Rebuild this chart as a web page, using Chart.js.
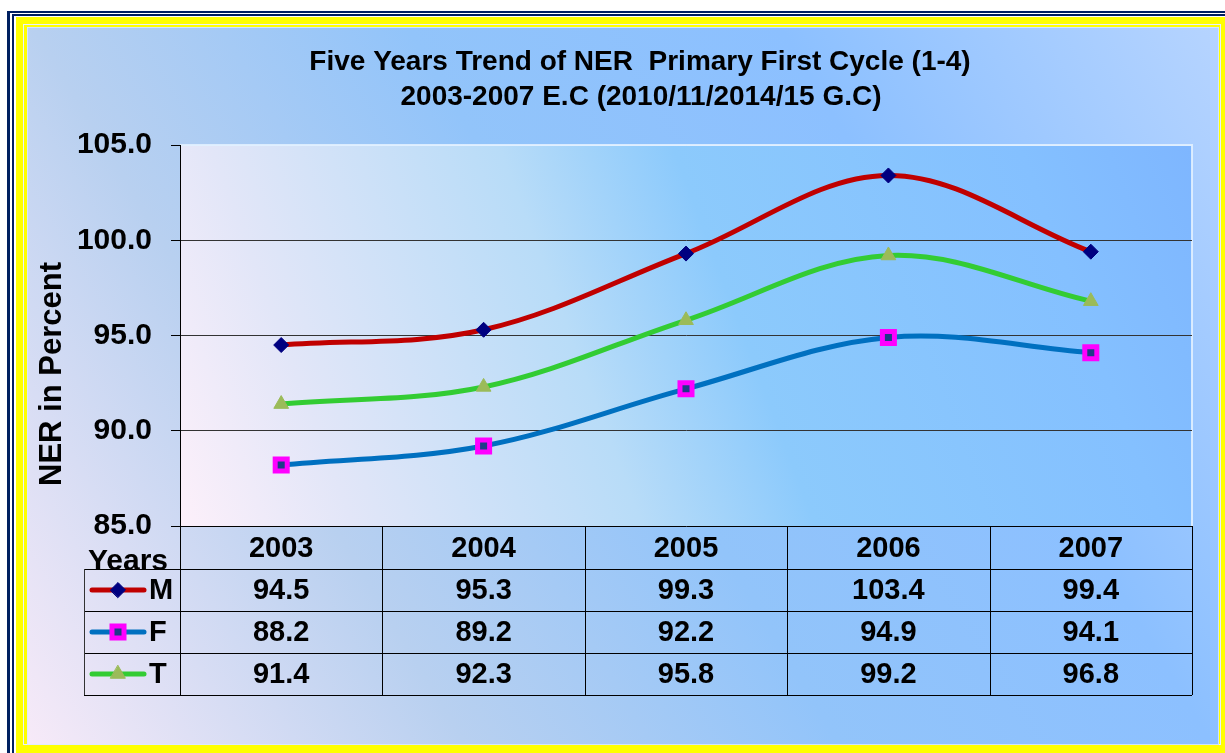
<!DOCTYPE html>
<html lang="en">
<head>
    <meta charset="UTF-8">
    <title>Five Years Trend of NER Primary First Cycle</title>
    <script src="https://cdn.jsdelivr.net/npm/chart.js"></script>
    <style>
        body { margin: 0; background: #fff; overflow: hidden; }
        canvas { display: block; }
    </style>
</head>
<body>
    <canvas id="nerChart" width="1225" height="753"></canvas>
    <script>
        // Data
        const years = ['2003', '2004', '2005', '2006', '2007'];
        const male = [94.5, 95.3, 99.3, 103.4, 99.4];
        const female = [88.2, 89.2, 92.2, 94.9, 94.1];
        const total = [91.4, 92.3, 95.8, 99.2, 96.8];
        const seriesNames = ['M', 'F', 'T'];
        const yTicks = [85, 90, 95, 100, 105];
        const titleLines = ['Five Years Trend of NER  Primary First Cycle (1-4)', '2003-2007 E.C (2010/11/2014/15 G.C)'];
        const yTitle = 'NER in Percent';
        const cornerLabel = 'Years';

        const FONT = '"Liberation Sans", Arial, sans-serif';
        Chart.defaults.font.family = FONT;

        function line(ctx, x1, y1, x2, y2) {
            ctx.beginPath();
            ctx.moveTo(x1, y1);
            ctx.lineTo(x2, y2);
            ctx.stroke();
        }

        // Frame, backgrounds, data table and titles
        const decor = {
            id: 'decor',
            beforeDraw(chart) {
                const ctx = chart.ctx, a = chart.chartArea;
                ctx.save();
                ctx.fillStyle = '#fff';
                ctx.fillRect(0, 0, 1225, 753);
                // double navy + yellow frame
                ctx.fillStyle = '#002060'; ctx.fillRect(7, 11, 1300, 800);
                ctx.fillStyle = '#fff'; ctx.fillRect(10, 13, 1300, 800);
                ctx.fillStyle = '#002060'; ctx.fillRect(12, 14, 1300, 800);
                ctx.fillStyle = '#fff'; ctx.fillRect(14, 16, 1300, 800);
                ctx.fillStyle = '#ffff00'; ctx.fillRect(16, 17, 1300, 800);
                ctx.strokeStyle = '#e8f0ff'; ctx.lineWidth = 1;
                ctx.strokeRect(23.5, 24.5, 1197, 720);

                // outer background
                const g = ctx.createLinearGradient(27, 745, 1219, 27);
                g.addColorStop(0, '#f7eaf8');
                g.addColorStop(0.27, '#b8d0f0');
                g.addColorStop(0.5, '#92c4fa');
                g.addColorStop(0.73, '#8cc0ff');
                g.addColorStop(1, '#b6d4ff');
                ctx.fillStyle = g;
                ctx.fillRect(27, 27, 1192, 718);
                ctx.strokeStyle = 'rgba(220,235,255,0.8)';
                ctx.strokeRect(27.5, 27.5, 1191, 717);

                // plot area background
                const p = ctx.createLinearGradient(a.left, a.bottom, a.right, a.top);
                p.addColorStop(0, '#fdf0fa');
                p.addColorStop(0.15, '#e2e6f8');
                p.addColorStop(0.4, '#b8dcf8');
                p.addColorStop(0.55, '#8ccafc');
                p.addColorStop(0.85, '#84c0ff');
                p.addColorStop(1, '#7eb6ff');
                ctx.fillStyle = p;
                ctx.fillRect(a.left, a.top, a.right - a.left, a.bottom - a.top);
                ctx.strokeStyle = 'rgba(225,240,255,0.9)';
                ctx.lineWidth = 2;
                ctx.beginPath();
                ctx.moveTo(a.left, a.top);
                ctx.lineTo(a.right, a.top);
                ctx.lineTo(a.right, a.bottom);
                ctx.stroke();
                ctx.restore();
            },
            afterDraw(chart) {
                const ctx = chart.ctx, a = chart.chartArea, x = chart.scales.x;
                const step = x.getPixelForValue(1) - x.getPixelForValue(0);
                const rows = [male, female, total];
                const top = Math.round(a.bottom), headH = 43, rowH = 42, legLeft = 84;
                const bottom = top + headH + rows.length * rowH;
                ctx.save();

                // table grid
                ctx.strokeStyle = '#000';
                ctx.lineWidth = 1;
                for (let r = 0; r <= rows.length; r++) {
                    const y = top + headH + r * rowH + 0.5;
                    line(ctx, legLeft, y, a.right, y);
                }
                line(ctx, Math.round(a.left) + 0.5, top, Math.round(a.left) + 0.5, bottom);
                years.forEach((_, i) => {
                    const xb = Math.round(x.getPixelForValue(i) + step / 2) + 0.5;
                    line(ctx, xb, top, xb, bottom);
                });
                ctx.strokeStyle = '#333';
                line(ctx, legLeft + 0.5, top + headH, legLeft + 0.5, bottom);

                // table text
                ctx.fillStyle = '#000';
                ctx.font = 'bold 29px ' + FONT;
                ctx.textAlign = 'center';
                ctx.textBaseline = 'middle';
                years.forEach((yr, i) => ctx.fillText(yr, x.getPixelForValue(i), top + headH / 2 + 1));
                rows.forEach((vals, r) => {
                    vals.forEach((v, i) => {
                        ctx.fillText(v.toFixed(1), x.getPixelForValue(i), top + headH + r * rowH + rowH / 2 + 1);
                    });
                });

                // legend keys
                chart.data.datasets.forEach((ds, r) => {
                    const cy = top + headH + r * rowH + rowH / 2;
                    ctx.strokeStyle = ds.borderColor;
                    ctx.lineWidth = 5;
                    ctx.lineCap = 'round';
                    line(ctx, 92, cy, 144, cy);
                    ctx.fillStyle = ds.pointBackgroundColor;
                    ctx.strokeStyle = ds.pointBorderColor;
                    ctx.lineWidth = ds.pointBorderWidth;
                    Chart.helpers.drawPoint(ctx, {
                        pointStyle: ds.pointStyle, radius: ds.pointRadius,
                        rotation: 0, borderWidth: ds.pointBorderWidth
                    }, 118, cy);
                    ctx.fillStyle = '#000';
                    ctx.textAlign = 'left';
                    ctx.font = 'bold 29px ' + FONT;
                    ctx.fillText(seriesNames[r], 149, cy + 1);
                });

                ctx.textAlign = 'center';
                ctx.textBaseline = 'alphabetic';
                ctx.font = 'bold 30px ' + FONT;
                ctx.fillText(cornerLabel, 128, 570);

                // chart title
                ctx.font = 'bold 28px ' + FONT;
                ctx.fillText(titleLines[0], 640, 70);
                ctx.fillText(titleLines[1], 641, 105);

                // y axis title
                ctx.translate(61, 374);
                ctx.rotate(-Math.PI / 2);
                ctx.font = 'bold 31px ' + FONT;
                ctx.fillText(yTitle, 0, 0);
                ctx.restore();
            }
        };

        const ctx = document.getElementById('nerChart').getContext('2d');
        const nerChart = new Chart(ctx, {
            type: 'line',
            data: {
                labels: years,
                datasets: [
                    {
                        label: seriesNames[0], data: male,
                        borderColor: '#c00000', borderWidth: 5,
                        pointStyle: 'rectRot', pointRadius: 7.5,
                        pointBackgroundColor: '#000080', pointBorderColor: '#000080', pointBorderWidth: 1
                    },
                    {
                        label: seriesNames[1], data: female,
                        borderColor: '#0070c0', borderWidth: 5,
                        pointStyle: 'rect', pointRadius: 8.5,
                        pointBackgroundColor: '#1f3c88', pointBorderColor: '#ff00ff', pointBorderWidth: 5
                    },
                    {
                        label: seriesNames[2], data: total,
                        borderColor: '#33cc33', borderWidth: 5,
                        pointStyle: 'triangle', pointRadius: 8.5,
                        pointBackgroundColor: '#9bbb59', pointBorderColor: '#9bbb59', pointBorderWidth: 1
                    }
                ]
            },
            options: {
                responsive: false,
                devicePixelRatio: 1,
                animation: false,
                layout: { padding: { left: 30, right: 33, top: 145, bottom: 227 } },
                elements: { line: { tension: 0.35, borderCapStyle: 'round' } },
                plugins: {
                    legend: { display: false },
                    tooltip: { enabled: false },
                    title: { display: false }
                },
                scales: {
                    x: { type: 'category', offset: true, display: false },
                    y: {
                        min: 85,
                        max: 105,
                        afterBuildTicks: s => { s.ticks = yTicks.map(v => ({ value: v })); },
                        afterFit: s => { s.width = 150; },
                        ticks: {
                            callback: v => Number(v).toFixed(1),
                            color: '#000',
                            padding: 19,
                            font: { size: 30, weight: 'bold' }
                        },
                        grid: {
                            color: c => c.tick && c.tick.value === 105 ? 'rgba(225,240,255,0.9)'
                                : (c.tick && c.tick.value === 85 ? '#000' : '#333'),
                            tickColor: '#000',
                            tickLength: 9,
                            lineWidth: 1
                        },
                        border: { color: '#000', width: 1 }
                    }
                }
            },
            plugins: [decor]
        });
    </script>
</body>
</html>
